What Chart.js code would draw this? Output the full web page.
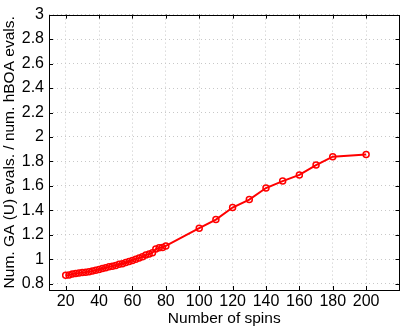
<!DOCTYPE html>
<html>
<head>
<meta charset="utf-8">
<script src="https://cdn.jsdelivr.net/npm/chart.js@4/dist/chart.umd.min.js"></script>
<style>
  html, body { margin: 0; padding: 0; background: #fff; }
  #wrap { width: 405px; height: 328px; }
</style>
</head>
<body>
<div id="wrap"><canvas id="myChart" width="405" height="328"></canvas></div>
<script>
// number of spins and the eval ratio
const spins = [20, 22, 24, 26, 28, 30, 32, 34, 36, 38, 40, 42, 44, 46, 48, 50,
               52, 54, 56, 58, 60, 62, 64, 66, 68, 70, 72, 74, 76, 78, 80,
               100, 110, 120, 130, 140, 150, 160, 170, 180, 200];
const ratio = [0.870, 0.872, 0.880, 0.885, 0.888, 0.892, 0.895, 0.900, 0.905, 0.912,
               0.918, 0.925, 0.932, 0.940, 0.945, 0.950, 0.960, 0.965, 0.975, 0.983,
               0.992, 1.002, 1.012, 1.022, 1.035, 1.045, 1.055, 1.085, 1.095, 1.098,
               1.110,
               1.255, 1.325, 1.424, 1.489, 1.583, 1.640, 1.690, 1.771, 1.839, 1.857];

const xTicks = [20, 40, 60, 80, 100, 120, 140, 160, 180, 200];
const yTicks = [0.8, 1, 1.2, 1.4, 1.6, 1.8, 2, 2.2, 2.4, 2.6, 2.8, 3];

const TICK_FONT = { family: "'Liberation Sans', Arial, sans-serif", size: 16 };
const TITLE_FONT = { family: "'Liberation Sans', Arial, sans-serif", size: 15.5 };

// matlab-like box with inward ticks
const boxPlugin = {
    id: 'box',
    afterDraw(chart) {
        const { ctx, chartArea: a, scales } = chart;
        ctx.save();
        ctx.strokeStyle = '#000';
        ctx.lineWidth = 1;
        ctx.beginPath();
        xTicks.forEach(v => {
            const px = Math.round(scales.x.getPixelForValue(v)) + 0.5;
            ctx.moveTo(px, a.bottom); ctx.lineTo(px, a.bottom - 4);
            ctx.moveTo(px, a.top); ctx.lineTo(px, a.top + 4);
        });
        yTicks.forEach(v => {
            const py = Math.round(scales.y.getPixelForValue(v)) + 0.5;
            ctx.moveTo(a.left, py); ctx.lineTo(a.left + 4, py);
            ctx.moveTo(a.right, py); ctx.lineTo(a.right - 4, py);
        });
        ctx.stroke();
        ctx.strokeRect(Math.round(a.left) + 0.5, Math.round(a.top) + 0.5,
                       Math.round(a.right - a.left) - 1, Math.round(a.bottom - a.top));
        ctx.restore();
    }
};

const gridOpts = { color: '#c8c8c8', drawTicks: false, tickLength: 0 };
const borderOpts = { display: false, dash: [1, 3] };

const ctx = document.querySelector('#myChart').getContext('2d');
new Chart(ctx, {
    type: 'line',
    data: {
        datasets: [{
            data: spins.map((s, i) => ({ x: s, y: ratio[i] })),
            borderColor: '#ff0000',
            borderWidth: 2,
            pointRadius: 3,
            pointBorderWidth: 1.5,
            pointBorderColor: '#ff0000',
            pointBackgroundColor: 'rgba(0,0,0,0)',
            tension: 0
        }]
    },
    options: {
        responsive: false,
        animation: false,
        layout: { padding: { top: 10, right: 3, left: 0, bottom: 0 } },
        plugins: { legend: { display: false }, tooltip: { enabled: false } },
        scales: {
            x: {
                type: 'linear',
                min: 10, max: 220,
                afterBuildTicks: s => { s.ticks = xTicks.map(v => ({ value: v })); },
                afterFit: s => { s.height = 38; },
                ticks: { color: '#000', font: TICK_FONT, padding: 2, maxRotation: 0 },
                grid: gridOpts,
                border: borderOpts,
                title: { display: true, text: 'Number of spins', color: '#000', font: TITLE_FONT, padding: { top: 0, bottom: 0 } }
            },
            y: {
                min: 0.75, max: 3,
                afterBuildTicks: s => { s.ticks = yTicks.map(v => ({ value: v })); },
                afterFit: s => { s.width = 49; },
                ticks: { color: '#000', font: TICK_FONT, padding: 5, callback: v => String(v) },
                grid: gridOpts,
                border: borderOpts,
                title: { display: true, text: 'Num. GA (U) evals. / num. hBOA evals.', color: '#000', font: TITLE_FONT, padding: { top: 0, bottom: 0 } }
            }
        }
    },
    plugins: [boxPlugin]
});
</script>
</body>
</html>
